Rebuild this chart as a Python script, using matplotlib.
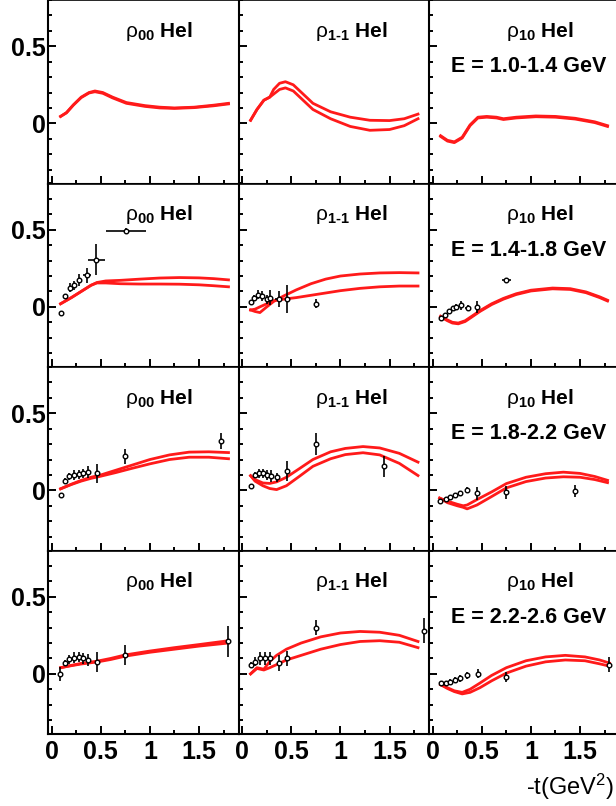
import matplotlib
matplotlib.use('Agg')
import matplotlib.pyplot as plt
from matplotlib.ticker import MultipleLocator, FixedLocator, FixedFormatter

plt.rcParams['font.family'] = ['Liberation Sans', 'DejaVu Sans']
plt.rcParams['mathtext.fontset'] = 'custom'
plt.rcParams['mathtext.rm'] = 'Liberation Sans'
plt.rcParams['mathtext.it'] = 'Liberation Sans'
plt.rcParams['mathtext.bf'] = 'Liberation Sans:bold'

# ---- panel labels ----
row_labels = ['E = 1.0-1.4 GeV', 'E = 1.4-1.8 GeV', 'E = 1.8-2.2 GeV', 'E = 2.2-2.6 GeV']
col_labels = [r'$\mathrm{ρ}_{\mathbf{00}}$ ', r'$\mathrm{ρ}_{\mathbf{1‐1}}$ ', r'$\mathrm{ρ}_{\mathbf{10}}$ ']
x_ticks = [0, 0.5, 1, 1.5]
x_tick_labels = ['0', '0.5', '1', '1.5']
y_ticks = [0, 0.5]
y_tick_labels = ['0', '0.5']

# ---- data points: (t, value, err_t, err_value) ----
# E = 1.4-1.8
d00_e2_t = [0.09, 0.135, 0.185, 0.225, 0.275, 0.36, 0.455, 0.755]
d00_e2_v = [-0.04, 0.07, 0.125, 0.14, 0.175, 0.205, 0.305, 0.49]
d00_e2_dt = [0.0, 0.0, 0.0, 0.02, 0.02, 0.04, 0.09, 0.2]
d00_e2_dv = [0.0, 0.015, 0.03, 0.03, 0.04, 0.05, 0.1, 0.02]

d11_e2_t = [0.085, 0.12, 0.165, 0.205, 0.25, 0.285, 0.37, 0.46, 0.755]
d11_e2_v = [0.03, 0.06, 0.08, 0.07, 0.05, 0.06, 0.05, 0.05, 0.02]
d11_e2_dt = [0.0, 0.0, 0.0, 0.0, 0.0, 0.0, 0.04, 0.0, 0.0]
d11_e2_dv = [0.0, 0.02, 0.03, 0.03, 0.03, 0.05, 0.05, 0.09, 0.03]

d10_e2_t = [0.08, 0.12, 0.165, 0.21, 0.24, 0.29, 0.36, 0.45, 0.75]
d10_e2_v = [-0.07, -0.05, -0.025, -0.01, 0.0, 0.01, -0.005, 0.0, 0.175]
d10_e2_dt = [0.0, 0.0, 0.0, 0.0, 0.0, 0.0, 0.03, 0.0, 0.045]
d10_e2_dv = [0.0, 0.0, 0.0, 0.015, 0.02, 0.03, 0.02, 0.04, 0.01]

# E = 1.8-2.2
d00_e3_t = [0.09, 0.14, 0.18, 0.23, 0.28, 0.32, 0.37, 0.46, 0.75, 1.72]
d00_e3_v = [-0.03, 0.06, 0.09, 0.1, 0.105, 0.11, 0.12, 0.11, 0.22, 0.32]
d00_e3_dt = [0.0, 0.0, 0.0, 0.0, 0.0, 0.0, 0.0, 0.0, 0.0, 0.0]
d00_e3_dv = [0.0, 0.02, 0.025, 0.03, 0.03, 0.03, 0.04, 0.06, 0.05, 0.05]

d11_e3_t = [0.085, 0.13, 0.17, 0.21, 0.25, 0.29, 0.35, 0.46, 0.755, 1.44]
d11_e3_v = [0.03, 0.1, 0.11, 0.11, 0.1, 0.095, 0.085, 0.125, 0.3, 0.155]
d11_e3_dt = [0.0, 0.0, 0.0, 0.0, 0.0, 0.0, 0.0, 0.0, 0.0, 0.0]
d11_e3_dv = [0.0, 0.02, 0.03, 0.03, 0.03, 0.04, 0.03, 0.065, 0.07, 0.07]

d10_e3_t = [0.07, 0.13, 0.18, 0.23, 0.28, 0.35, 0.45, 0.745, 1.445]
d10_e3_v = [-0.07, -0.055, -0.04, -0.03, -0.02, 0.005, -0.02, -0.013, -0.006]
d10_e3_dt = [0.0, 0.0, 0.0, 0.0, 0.0, 0.0, 0.0, 0.0, 0.0]
d10_e3_dv = [0.0, 0.0, 0.0, 0.0, 0.0, 0.015, 0.04, 0.04, 0.04]

# E = 2.2-2.6
d00_e4_t = [0.087, 0.135, 0.18, 0.225, 0.275, 0.32, 0.37, 0.46, 0.75, 1.8]
d00_e4_v = [0.0, 0.07, 0.095, 0.105, 0.11, 0.1, 0.09, 0.08, 0.125, 0.21]
d00_e4_dt = [0.0, 0.0, 0.0, 0.0, 0.0, 0.0, 0.0, 0.0, 0.0, 0.0]
d00_e4_dv = [0.045, 0.02, 0.03, 0.035, 0.035, 0.035, 0.04, 0.065, 0.065, 0.1]

d11_e4_t = [0.09, 0.13, 0.18, 0.23, 0.28, 0.37, 0.46, 0.75, 1.85]
d11_e4_v = [0.06, 0.08, 0.1, 0.1, 0.1, 0.07, 0.1, 0.3, 0.28]
d11_e4_dt = [0.0, 0.0, 0.0, 0.0, 0.0, 0.0, 0.0, 0.0, 0.0]
d11_e4_dv = [0.02, 0.03, 0.04, 0.04, 0.04, 0.05, 0.05, 0.05, 0.08]

d10_e4_t = [0.08, 0.13, 0.18, 0.23, 0.28, 0.35, 0.46, 0.75, 1.8]
d10_e4_v = [-0.06, -0.06, -0.05, -0.04, -0.03, -0.01, 0.0, -0.02, 0.06]
d10_e4_dt = [0.0, 0.0, 0.0, 0.0, 0.0, 0.0, 0.0, 0.0, 0.0]
d10_e4_dv = [0.0, 0.0, 0.015, 0.02, 0.02, 0.025, 0.03, 0.03, 0.05]

# ---- model curves (two per panel) ----
# E = 1.0-1.4
c00_e1_t = [0.09, 0.15, 0.22, 0.3, 0.38, 0.44, 0.52, 0.62, 0.76, 0.95, 1.1, 1.25, 1.45, 1.65, 1.8]
c00_e1_a = [0.045, 0.07, 0.12, 0.17, 0.2, 0.21, 0.2, 0.17, 0.135, 0.115, 0.105, 0.1, 0.105, 0.118, 0.13]
c00_e1_b = [0.045, 0.068, 0.118, 0.167, 0.197, 0.205, 0.195, 0.165, 0.13, 0.11, 0.1, 0.097, 0.102, 0.114, 0.126]

c11_e1_t = [0.085, 0.15, 0.22, 0.28, 0.32, 0.38, 0.44, 0.52, 0.62, 0.72, 0.9, 1.1, 1.3, 1.5, 1.65, 1.79]
c11_e1_a = [0.02, 0.09, 0.15, 0.17, 0.22, 0.26, 0.27, 0.25, 0.19, 0.13, 0.075, 0.04, 0.02, 0.018, 0.03, 0.06]
c11_e1_b = [0.02, 0.09, 0.15, 0.17, 0.19, 0.22, 0.23, 0.21, 0.15, 0.09, 0.03, -0.02, -0.045, -0.04, -0.015, 0.03]

c10_e1_t = [0.08, 0.15, 0.22, 0.3, 0.38, 0.46, 0.55, 0.65, 0.72, 0.85, 1.05, 1.25, 1.45, 1.65, 1.78]
c10_e1_a = [-0.08, -0.11, -0.12, -0.09, -0.01, 0.04, 0.045, 0.04, 0.03, 0.04, 0.048, 0.045, 0.033, 0.01, -0.015]
c10_e1_b = [-0.085, -0.115, -0.125, -0.095, -0.015, 0.035, 0.04, 0.035, 0.025, 0.035, 0.043, 0.04, 0.028, 0.005, -0.02]

# E = 1.4-1.8
c00_e2_t = [0.09, 0.2, 0.3, 0.4, 0.46, 0.55, 0.7, 0.9, 1.1, 1.3, 1.5, 1.65, 1.8]
c00_e2_a = [0.02, 0.06, 0.1, 0.14, 0.158, 0.168, 0.172, 0.18, 0.187, 0.19, 0.188, 0.183, 0.175]
c00_e2_b = [0.02, 0.06, 0.1, 0.14, 0.155, 0.155, 0.15, 0.148, 0.148, 0.147, 0.143, 0.137, 0.13]

c11_e2_t = [0.085, 0.13, 0.18, 0.25, 0.32, 0.42, 0.55, 0.7, 0.85, 1.0, 1.2, 1.4, 1.6, 1.79]
c11_e2_a = [-0.02, -0.03, -0.037, 0.0, 0.035, 0.07, 0.11, 0.15, 0.18, 0.2, 0.213, 0.22, 0.222, 0.22]
c11_e2_b = [-0.02, -0.015, 0.0, 0.02, 0.04, 0.05, 0.06, 0.075, 0.09, 0.105, 0.12, 0.13, 0.135, 0.135]

c10_e2_t = [0.08, 0.15, 0.2, 0.26, 0.33, 0.4, 0.48, 0.6, 0.72, 0.85, 1.0, 1.22, 1.4, 1.56, 1.7, 1.78]
c10_e2_a = [-0.06, -0.085, -0.1, -0.105, -0.09, -0.06, -0.025, 0.02, 0.055, 0.085, 0.108, 0.122, 0.118, 0.097, 0.065, 0.043]
c10_e2_b = [-0.065, -0.09, -0.105, -0.11, -0.095, -0.065, -0.03, 0.015, 0.05, 0.08, 0.103, 0.117, 0.113, 0.092, 0.06, 0.038]

# E = 1.8-2.2
c00_e3_t = [0.09, 0.2, 0.3, 0.4, 0.5, 0.65, 0.8, 1.0, 1.2, 1.4, 1.6, 1.8]
c00_e3_a = [0.01, 0.04, 0.065, 0.085, 0.1, 0.13, 0.16, 0.2, 0.23, 0.248, 0.25, 0.245]
c00_e3_b = [0.01, 0.038, 0.06, 0.078, 0.092, 0.115, 0.14, 0.172, 0.2, 0.215, 0.215, 0.205]

c11_e3_t = [0.085, 0.13, 0.21, 0.28, 0.35, 0.45, 0.58, 0.72, 0.9, 1.05, 1.23, 1.4, 1.6, 1.79]
c11_e3_a = [0.095, 0.07, 0.048, 0.045, 0.055, 0.085, 0.14, 0.2, 0.25, 0.272, 0.284, 0.275, 0.24, 0.183]
c11_e3_b = [0.095, 0.06, 0.03, 0.012, 0.005, 0.03, 0.09, 0.156, 0.205, 0.232, 0.244, 0.23, 0.175, 0.096]

c10_e3_t = [0.07, 0.15, 0.25, 0.31, 0.35, 0.45, 0.6, 0.75, 0.95, 1.15, 1.33, 1.5, 1.65, 1.78]
c10_e3_a = [-0.05, -0.07, -0.09, -0.1, -0.095, -0.06, -0.01, 0.044, 0.085, 0.108, 0.118, 0.11, 0.09, 0.065]
c10_e3_b = [-0.05, -0.08, -0.1, -0.11, -0.12, -0.095, -0.04, 0.016, 0.057, 0.08, 0.088, 0.085, 0.07, 0.05]

# E = 2.2-2.6
c00_e4_t = [0.09, 0.2, 0.3, 0.46, 0.6, 0.75, 1.0, 1.25, 1.5, 1.8]
c00_e4_a = [0.04, 0.055, 0.068, 0.082, 0.1, 0.123, 0.148, 0.17, 0.19, 0.215]
c00_e4_b = [0.04, 0.053, 0.064, 0.077, 0.093, 0.115, 0.14, 0.16, 0.18, 0.2]

c11_e4_t = [0.085, 0.15, 0.22, 0.28, 0.35, 0.45, 0.6, 0.8, 1.0, 1.2, 1.4, 1.6, 1.79]
c11_e4_a = [0.0, 0.04, 0.03, 0.08, 0.12, 0.16, 0.2, 0.24, 0.265, 0.275, 0.27, 0.25, 0.21]
c11_e4_b = [0.0, 0.035, 0.025, 0.04, 0.06, 0.09, 0.12, 0.16, 0.19, 0.21, 0.215, 0.205, 0.17]

c10_e4_t = [0.08, 0.15, 0.22, 0.3, 0.38, 0.48, 0.6, 0.75, 0.95, 1.15, 1.35, 1.55, 1.7, 1.8]
c10_e4_a = [-0.07, -0.09, -0.11, -0.12, -0.1, -0.06, -0.01, 0.04, 0.085, 0.11, 0.12, 0.11, 0.09, 0.07]
c10_e4_b = [-0.07, -0.095, -0.115, -0.13, -0.12, -0.09, -0.045, 0.005, 0.05, 0.078, 0.09, 0.085, 0.065, 0.05]

points = [
    [None, None, None],
    [(d00_e2_t, d00_e2_v, d00_e2_dt, d00_e2_dv), (d11_e2_t, d11_e2_v, d11_e2_dt, d11_e2_dv),
     (d10_e2_t, d10_e2_v, d10_e2_dt, d10_e2_dv)],
    [(d00_e3_t, d00_e3_v, d00_e3_dt, d00_e3_dv), (d11_e3_t, d11_e3_v, d11_e3_dt, d11_e3_dv),
     (d10_e3_t, d10_e3_v, d10_e3_dt, d10_e3_dv)],
    [(d00_e4_t, d00_e4_v, d00_e4_dt, d00_e4_dv), (d11_e4_t, d11_e4_v, d11_e4_dt, d11_e4_dv),
     (d10_e4_t, d10_e4_v, d10_e4_dt, d10_e4_dv)],
]
curves = [
    [(c00_e1_t, c00_e1_a, c00_e1_b), (c11_e1_t, c11_e1_a, c11_e1_b), (c10_e1_t, c10_e1_a, c10_e1_b)],
    [(c00_e2_t, c00_e2_a, c00_e2_b), (c11_e2_t, c11_e2_a, c11_e2_b), (c10_e2_t, c10_e2_a, c10_e2_b)],
    [(c00_e3_t, c00_e3_a, c00_e3_b), (c11_e3_t, c11_e3_a, c11_e3_b), (c10_e3_t, c10_e3_a, c10_e3_b)],
    [(c00_e4_t, c00_e4_a, c00_e4_b), (c11_e4_t, c11_e4_a, c11_e4_b), (c10_e4_t, c10_e4_a, c10_e4_b)],
]

W, H = 616, 806
fig = plt.figure(figsize=(W / 100, H / 100), dpi=100)

col_left = [48.3, 238.8, 429.3]
col_w = 190.5
row_h = 183.5
bottom_px = 734

for r in range(4):
    for c in range(3):
        top_px = bottom_px - (4 - r) * row_h
        ax = fig.add_axes([col_left[c] / W, 1 - (top_px + row_h) / H, col_w / W, row_h / H])
        ax.set_xlim(-0.035, 1.905)
        ax.set_ylim(-0.39, 0.80)

        t, a, b = curves[r][c]
        ax.plot(t, a, color='#ff1a1a', lw=2.0, zorder=2, solid_joinstyle='round')
        ax.plot(t, b, color='#ff1a1a', lw=2.0, zorder=2, solid_joinstyle='round')

        if points[r][c] is not None:
            pt, pv, pdt, pdv = points[r][c]
            ax.errorbar(pt, pv, xerr=pdt, yerr=pdv, fmt='o', ms=3.3, mfc='white', mec='black',
                        mew=1.0, ecolor='black', elinewidth=1.2, capsize=0, zorder=3)

        for s in ['top', 'right']:
            ax.spines[s].set_linewidth(1.2)
        for s in ['left', 'bottom']:
            ax.spines[s].set_linewidth(1.5)

        ax.xaxis.set_major_locator(FixedLocator(x_ticks))
        ax.xaxis.set_minor_locator(MultipleLocator(0.25))
        ax.yaxis.set_major_locator(FixedLocator(y_ticks))
        ax.yaxis.set_minor_locator(MultipleLocator(0.1))
        ax.tick_params(which='both', direction='in', top=False, right=False, width=1.4)
        ax.tick_params(which='major', length=6)
        ax.tick_params(which='minor', length=3)
        ax.tick_params(axis='x', labelsize=18, pad=4)
        ax.tick_params(axis='y', labelsize=18, pad=1.5)

        if r == 3:
            ax.xaxis.set_major_formatter(FixedFormatter(x_tick_labels))
            for lab in ax.get_xticklabels():
                lab.set_fontweight('bold')
        else:
            ax.set_xticklabels([])
        if c == 0:
            ax.yaxis.set_major_formatter(FixedFormatter(y_tick_labels))
            for lab in ax.get_yticklabels():
                lab.set_fontweight('bold')
        else:
            ax.set_yticklabels([])

        ax.text(0.40, 0.80, col_labels[c] + 'Hel', transform=ax.transAxes, fontsize=15,
                fontweight='bold', ha='left', va='baseline')
        if c == 2:
            ax.text(0.52, 0.605, row_labels[r], transform=ax.transAxes, fontsize=15.5,
                    fontweight='bold', ha='center', va='baseline')

fig.text(0.997, 1 - 795 / H, r'-t(GeV$^{2}$)', fontsize=17, ha='right', va='baseline')

fig.savefig('out.png', dpi=100)
